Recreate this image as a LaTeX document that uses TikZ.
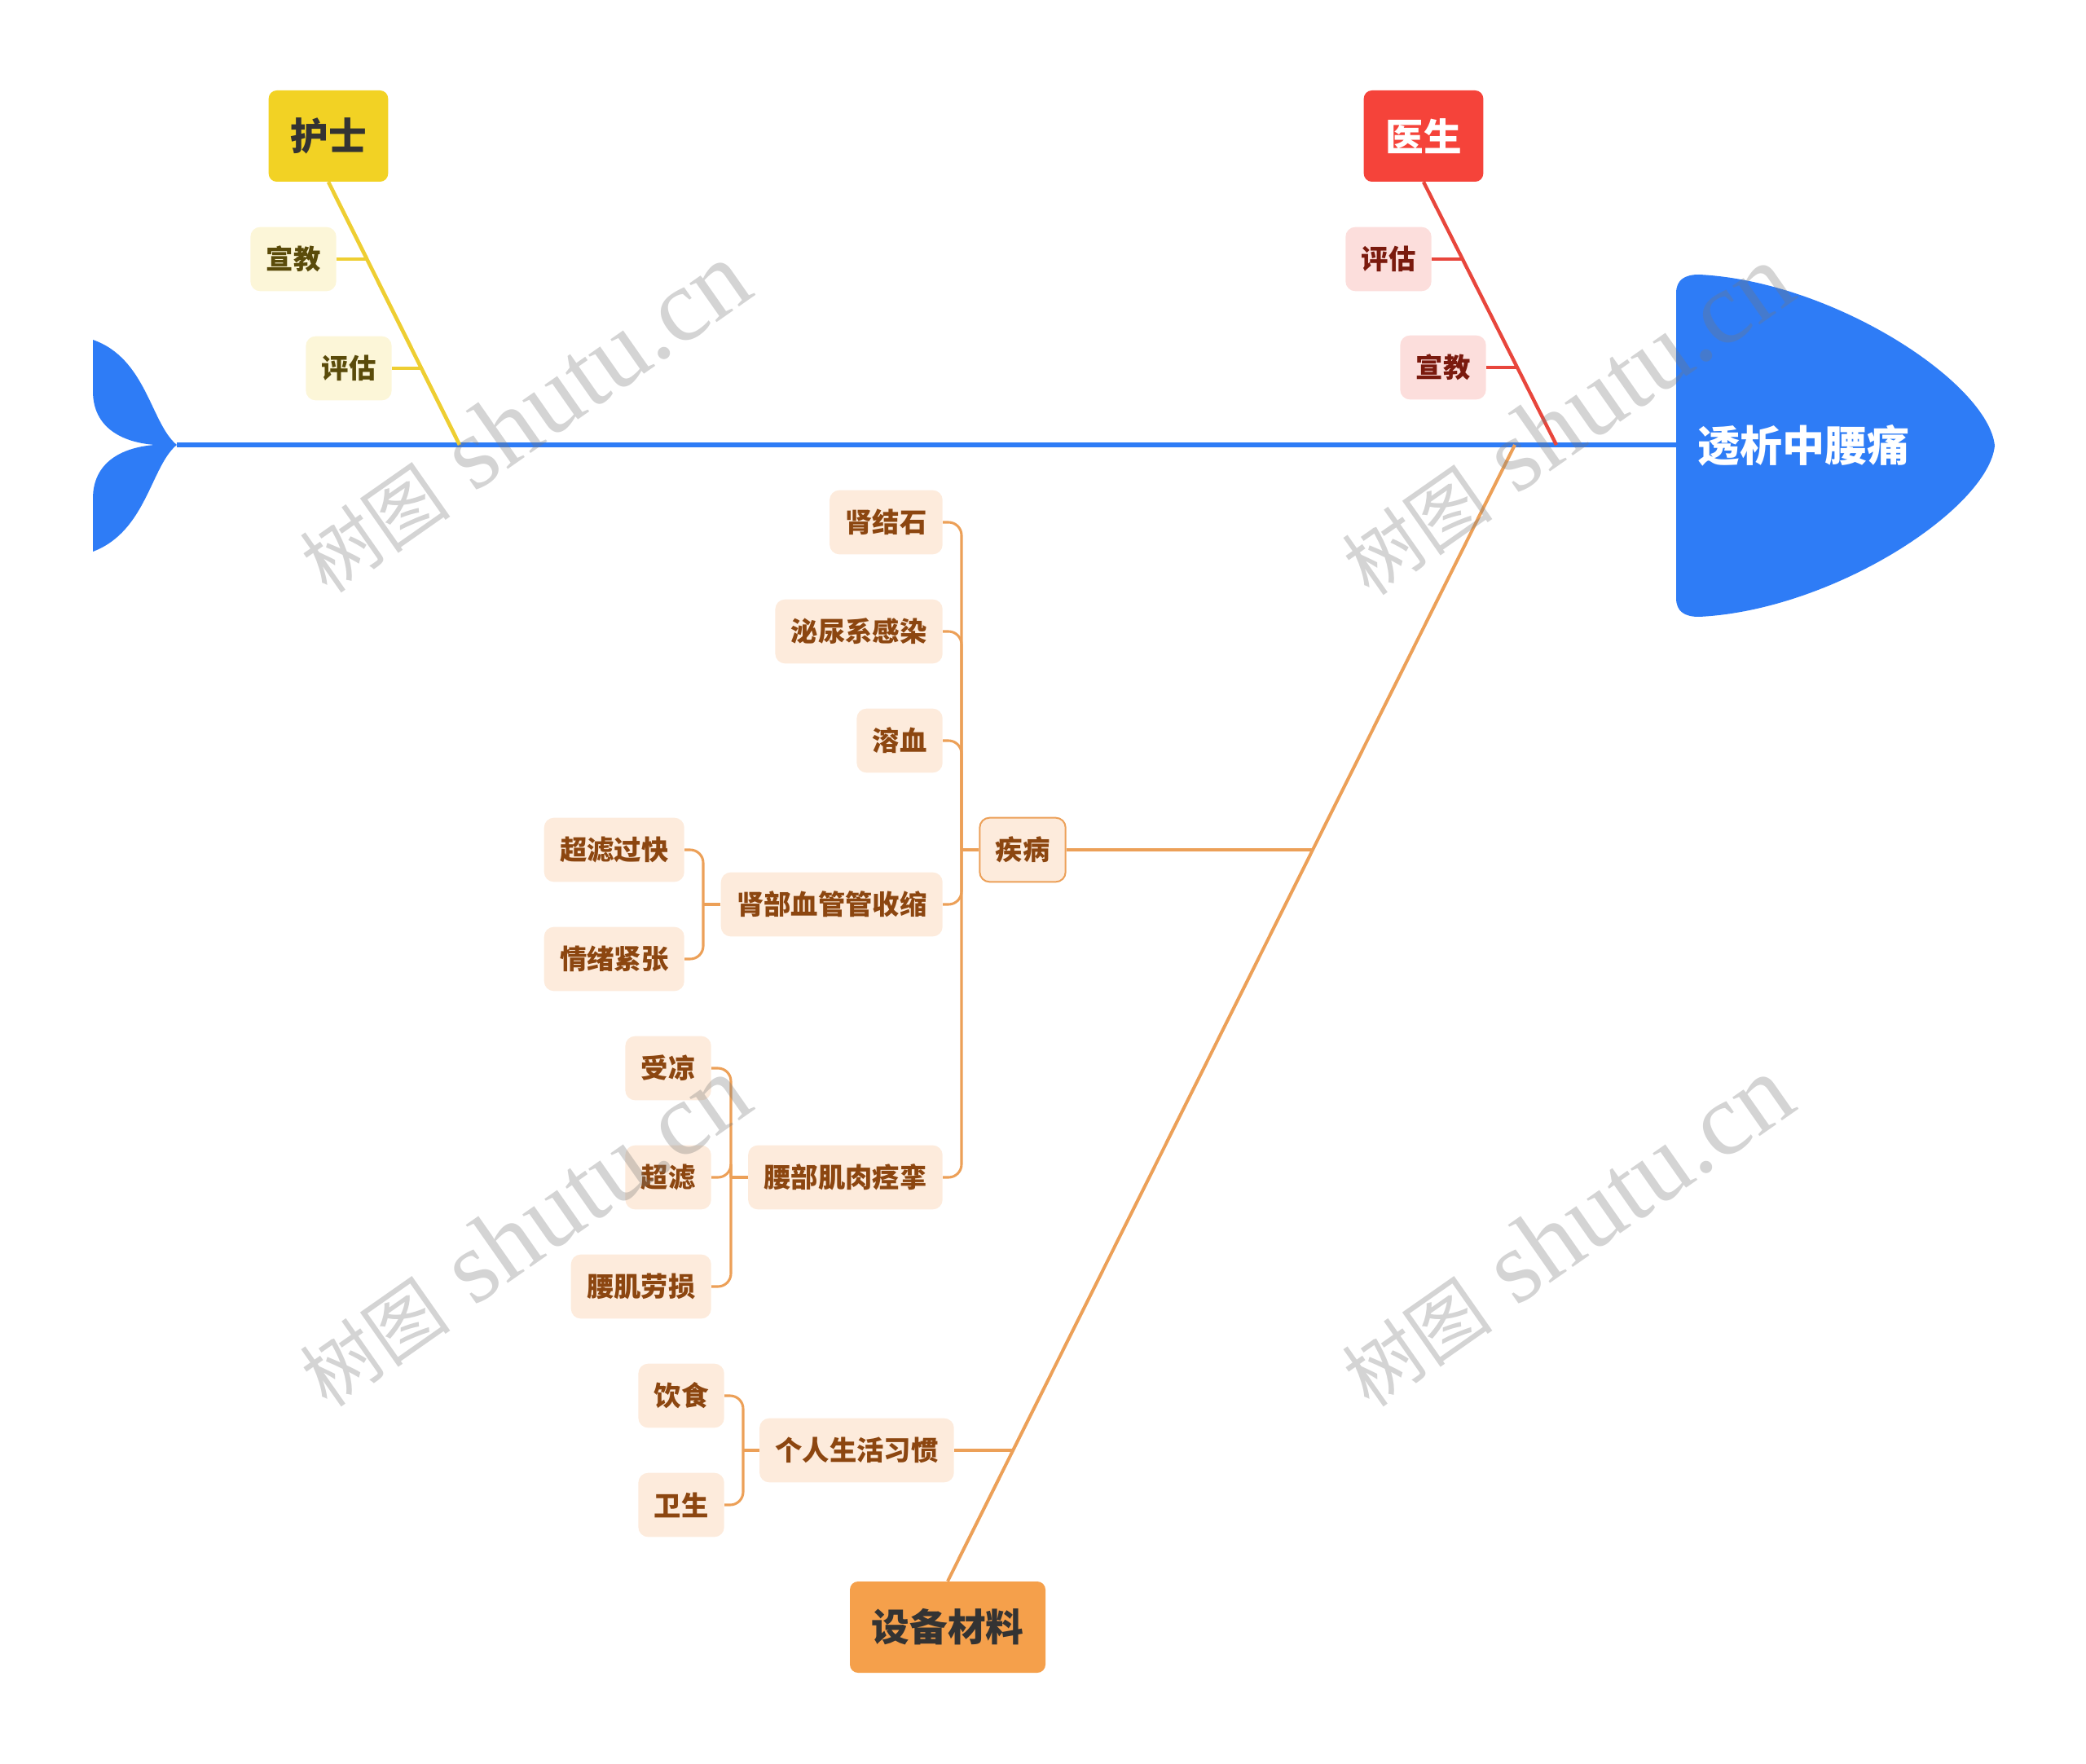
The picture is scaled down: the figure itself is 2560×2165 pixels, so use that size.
\documentclass[tikz,border=0pt]{standalone}
\usepackage{fontspec}
\usepackage{xcolor}
\newfontfamily\cjkfont{Noto Sans CJK SC}
\newfontfamily\wmfont{Liberation Serif}

\tikzset{
  fishbody/.style={fill={rgb, 255:red, 46; green, 124; blue, 246 }},
  spine/.style={draw={rgb, 255:red, 46; green, 124; blue, 246 }, line width=4.25pt},
  cat/.style={rounded corners=7.5pt, minimum height=84pt, inner xsep=20pt, inner ysep=0pt, font=\cjkfont\bfseries\fontsize{35pt}{40pt}\selectfont},
  leaf/.style={rounded corners=9pt, minimum height=59pt, inner xsep=14.5pt, inner ysep=0pt, font=\cjkfont\bfseries\fontsize{25pt}{29pt}\selectfont},
  yleaf/.style={leaf, fill={rgb, 255:red, 252; green, 246; blue, 216 }, text={rgb, 255:red, 90; green, 75; blue, 10 }},
  rleaf/.style={leaf, fill={rgb, 255:red, 252; green, 222; blue, 220 }, text={rgb, 255:red, 122; green, 26; blue, 14 }},
  oleaf/.style={leaf, fill={rgb, 255:red, 253; green, 235; blue, 220 }, text={rgb, 255:red, 140; green, 70; blue, 16 }},
  yline/.style={draw={rgb, 255:red, 238; green, 206; blue, 50 }},
  rline/.style={draw={rgb, 255:red, 232; green, 70; blue, 60 }},
  oline/.style={draw={rgb, 255:red, 236; green, 160; blue, 88 }, line width=2.3pt, rounded corners=12pt},
  wmark/.style={rotate=35, text={rgb, 255:red, 120; green, 120; blue, 120 }, text opacity=0.32}
}

\begin{document}
\begin{tikzpicture}[x=0.75pt,y=0.75pt,yscale=-1,xscale=1]
\useasboundingbox (0,0) rectangle (2560,2165);

%Shape: Fish Tail
\path[fishbody] (217,546) .. controls (185,520) and (180,440) .. (114,417) -- (114,480) .. controls (114,525) and (150,543) .. (190,546) .. controls (150,549) and (114,567) .. (114,612) -- (114,677) .. controls (180,652) and (185,572) .. (217,546) -- cycle;
%Shape: Fish Head
\path[fishbody] (2057,360) .. controls (2057,343) and (2068,337) .. (2085,337) .. controls (2250,345) and (2440,470) .. (2448,547) .. controls (2440,624) and (2250,749) .. (2085,757) .. controls (2068,757) and (2057,751) .. (2057,734) -- cycle;

\coordinate (tail) at (217,546);
\coordinate (headw) at (2057,546);
\coordinate (hsj) at (564,546);
\coordinate (ysj) at (1910,546);
\coordinate (sbj) at (1859,546);

% Text Node
\node[text=white, font=\cjkfont\bfseries\fontsize{39pt}{44pt}\selectfont] (head) at (2213,547) {透析中腰痛};

% Text Node
\node[cat, fill={rgb, 255:red, 242; green, 210; blue, 36 }, text={rgb, 255:red, 51; green, 51; blue, 51 }] (hushi) at (403,167) {护士};
% Text Node
\node[cat, fill={rgb, 255:red, 245; green, 67; blue, 58 }, text=white] (yisheng) at (1747,167) {医生};
% Text Node
\node[cat, fill={rgb, 255:red, 245; green, 160; blue, 75 }, text={rgb, 255:red, 51; green, 51; blue, 51 }] (shebei) at (1163,1997) {设备材料};

% Text Node
\node[yleaf] (hs-xj) at (360,318) {宣教};
\node[yleaf] (hs-pg) at (428,452) {评估};
\node[rleaf] (ys-pg) at (1704,318) {评估};
\node[rleaf] (ys-xj) at (1771,451) {宣教};

% Text Node
\node[oleaf, draw={rgb, 255:red, 236; green, 160; blue, 88 }, line width=1.5pt] (jibing) at (1255,1043) {疾病};
\node[oleaf, anchor=east] (jjs) at (1157,641) {肾结石};
\node[oleaf, anchor=east] (mngr) at (1157,775) {泌尿系感染};
\node[oleaf, anchor=east] (rx) at (1157,909) {溶血};
\node[oleaf, anchor=east] (sbxg) at (1157,1110) {肾部血管管收缩};
\node[oleaf, anchor=east] (ybjr) at (1157,1445) {腰部肌肉痉挛};
\node[oleaf, anchor=east] (clgk) at (840,1043) {超滤过快};
\node[oleaf, anchor=east] (qxjz) at (840,1177) {情绪紧张};
\node[oleaf, anchor=east] (sl) at (873,1311) {受凉};
\node[oleaf, anchor=east] (cl) at (873,1445) {超滤};
\node[oleaf, anchor=east] (yjls) at (873,1579) {腰肌劳损};
\node[oleaf, anchor=east] (grxg) at (1171,1780) {个人生活习惯};
\node[oleaf, anchor=east] (ys) at (889,1713) {饮食};
\node[oleaf, anchor=east] (ws) at (889,1847) {卫生};

%Straight Lines
\draw[spine] (tail) -- (headw);

%Straight Lines
\draw[yline, line width=3.5pt] (hushi.south) -- (hsj);
\draw[yline, line width=2.5pt] (hs-xj.east) -- (451,318);
\draw[yline, line width=2.5pt] (hs-pg.east) -- (517,452);

%Straight Lines
\draw[rline, line width=3.25pt] (yisheng.south) -- (ysj);
\draw[rline, line width=2.5pt] (ys-pg.east) -- (1795,318);
\draw[rline, line width=2.5pt] (ys-xj.east) -- (1862,451);

%Straight Lines
\draw[oline, line width=3pt] (shebei.north) -- (sbj);
\coordinate (jp) at (1611,1043);
\coordinate (gp) at (1243,1780);
\draw[oline] (jibing.east) -- (jp);
\draw[oline] (grxg.east) -- (gp);

\coordinate (jb) at (1180,1043);
\draw[oline] (jibing.west) -- (jb);
\foreach \n in {jjs,mngr,rx,sbxg,ybjr}
  \draw[oline] (\n.east) -| (jb);

\coordinate (sb) at (863,1110);
\draw[oline] (sbxg.west) -- (sb);
\foreach \n in {clgk,qxjz}
  \draw[oline] (\n.east) -| (sb);

\coordinate (yb) at (897,1445);
\draw[oline] (ybjr.west) -- (yb);
\foreach \n in {sl,cl,yjls}
  \draw[oline] (\n.east) -| (yb);

\coordinate (gb) at (912,1780);
\draw[oline] (grxg.west) -- (gb);
\foreach \n in {ys,ws}
  \draw[oline] (\n.east) -| (gb);

% Text Node
\foreach \i/\wx/\wy in {1/643/513, 2/1922/516, 3/643/1512, 4/1922/1512}
  \node[wmark] (wm\i) at (\wx,\wy) {{\cjkfont\fontsize{70pt}{72pt}\selectfont 树图}{\wmfont\fontsize{95pt}{97pt}\selectfont\ shutu.cn}};

\end{tikzpicture}
\end{document}
